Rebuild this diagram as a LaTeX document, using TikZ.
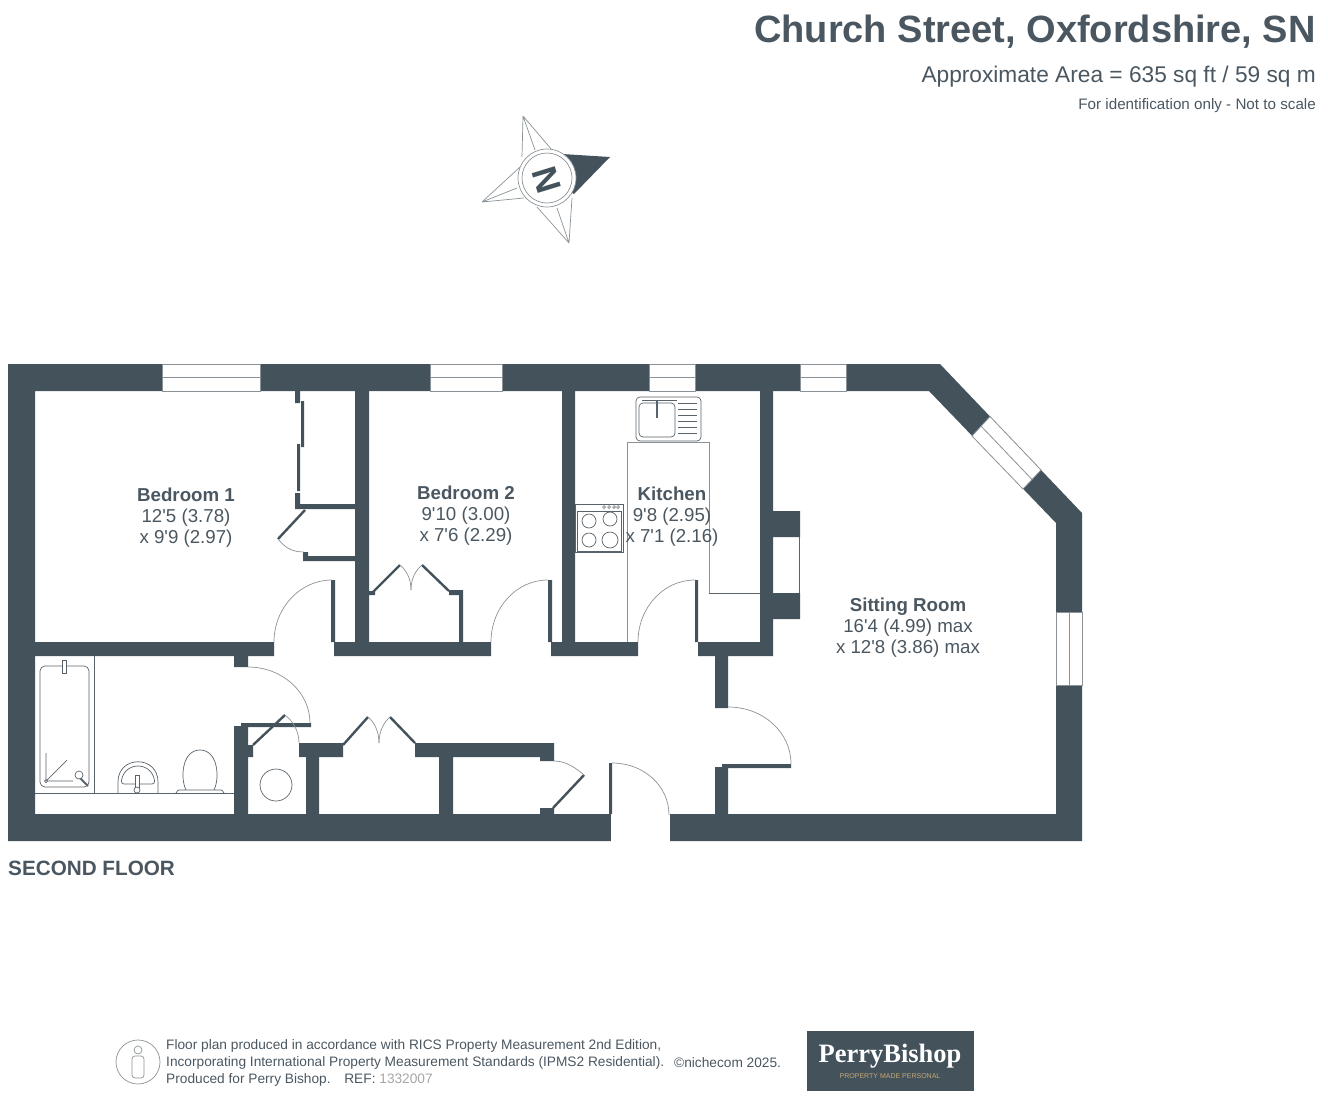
\documentclass[tikz,border=0pt]{standalone}
\usepackage{fontspec}
\newfontfamily\planfont{Liberation Sans}
\newfontfamily\logofont{Liberation Serif}
\definecolor{wall dark}{HTML}{44525C}
\definecolor{text dark}{HTML}{4A5761}
\definecolor{fit line}{HTML}{59636B}
\definecolor{swing line}{HTML}{8B9297}
\definecolor{logo tan}{HTML}{C7A873}
\colorlet{ref grey}{black!35}
\def\outerwall{(8,364) -- (940,364) -- (1082,513) -- (1082,841) -- (8,841) -- cycle}
\def\innerwall{(35,391) -- (929,391) -- (1056,523) -- (1056,814) -- (35,814) -- cycle}
\tikzset{wall/.style={fill=wall dark, draw=none},
	glass/.style={fill=white, draw=swing line, line width=.8pt},
	swing/.style={draw=swing line, line width=.7pt},
	fitting/.style={draw=fit line, line width=.7pt},
	leaf/.style={draw=wall dark, line width=2.4pt},
	roomlabel/.style={text=text dark, align=center, inner sep=0pt, font=\planfont\fontsize{18.7}{21}\selectfont},
	footnote/.style={text=text dark, anchor=west, inner sep=0pt, font=\planfont\fontsize{13.7}{15}\selectfont}}

\begin{document}
\begin{tikzpicture}[x=1pt,y=-1pt]
		\useasboundingbox (0,0) rectangle (1328,1106);
		\fill[wall, even odd rule] \outerwall \innerwall;
		\fill[white] (611,814) rectangle (670,842);
		% windows
		\draw[glass] (162,364) rectangle (260,391) (162,377.5) -- (260,377.5);
		\draw[glass] (430,364) rectangle (502,391) (430,377.5) -- (502,377.5);
		\draw[glass] (649,364) rectangle (695,391) (649,377.5) -- (695,377.5);
		\draw[glass] (800,364) rectangle (846,391) (800,377.5) -- (846,377.5);
		\draw[glass] (990,416.5) -- (1041,470) -- (1023,489) -- (972,436) -- cycle (981,426) -- (1032,479.5);
		\draw[glass] (1056,612) rectangle (1082,685) (1069,612) -- (1069,685);
		% inside walls
		\fill[wall] (355,391) rectangle (369,656)
			(562,391) rectangle (575,656)
			(760,391) rectangle (773,656)
			(773,511) rectangle (800,537)
			(773,593) rectangle (800,619)
			(35,642) rectangle (274,656)
			(334,642) rectangle (491,656)
			(551,642) rectangle (638,656)
			(698,642) rectangle (773,656)
			(715,656) rectangle (728,708)
			(715,767) rectangle (728,814)
			(234,656) rectangle (248,667)
			(234,726) rectangle (248,814)
			(248,745) rectangle (253,757)
			(299,743) rectangle (343,757)
			(306,757) rectangle (319,814)
			(415,743) rectangle (554,757)
			(540,757) rectangle (554,761)
			(439,757) rectangle (453,814)
			(540,808) rectangle (554,814)
			(609,763) rectangle (612,814)
			(241,723) rectangle (311,727)
			(722,764) rectangle (791,768)
			(331,580) rectangle (335,642)
			(548,580) rectangle (552,642)
			(695,580) rectangle (698,642)
			(459,590) rectangle (463,642)
			(449,590) rectangle (463,595)
			(368,591) rectangle (375,595)
			(295,391) rectangle (300,403)
			(301,401) rectangle (304,447)
			(297,444) rectangle (300,491)
			(295,493) rectangle (300,509)
			(295,504) rectangle (355,509)
			(303,552) rectangle (308,561)
			(303,556) rectangle (355,561);
		\draw[fit line, line width=.8pt] (799.5,537) -- (799.5,593);
		% door leaves
		\draw[leaf] (253,745) -- (285,715);
		\draw[leaf] (343,745) -- (368,717);
		\draw[leaf] (390,717) -- (415,743);
		\draw[leaf] (553,808) -- (584,775);
		\draw[leaf] (305,510) -- (278,539);
		\draw[leaf] (373,592) -- (400,565);
		\draw[leaf] (422,565) -- (449,591);
		% door swings
		\draw[swing] (332,580) .. controls +(-32,0) and +(0,-34) .. (274,642);
		\draw[swing] (548,580) .. controls +(-32,0) and +(0,-34) .. (491,642);
		\draw[swing] (695,580) .. controls +(-32,0) and +(0,-34) .. (638,642);
		\draw[swing] (248,667) .. controls +(34,0) and +(0,-31) .. (310,723);
		\draw[swing] (728,707) .. controls +(35,0) and +(0,-32) .. (791,764);
		\draw[swing] (612,763) .. controls +(32,0) and +(0,-29) .. (669,815);
		\draw[swing] (285,715) .. controls +(8,6) and +(0,-12) .. (299,743);
		\draw[swing] (368,717) .. controls +(6,5) and +(0,-12) .. (379,743);
		\draw[swing] (390,717) .. controls +(-6,5) and +(0,-12) .. (379,743);
		\draw[swing] (400,565) .. controls +(6,5) and +(0,-12) .. (411,590);
		\draw[swing] (422,565) .. controls +(-6,5) and +(0,-12) .. (411,590);
		\draw[swing] (554,761) .. controls +(12,0) and +(-8,-7) .. (584,775);
		\draw[swing] (278,539) .. controls +(6,7) and +(-14,0) .. (304,552);
		% kitchen
		\draw[swing] (627,642) -- (627,442) -- (709,442) -- (709,593);
		\draw[fitting] (709,593) -- (760,593);
		\draw[fitting, fill=white, rounded corners=4pt] (636,397) rectangle (701,441);
		\draw[fitting, rounded corners=4pt] (639,403) rectangle (675,437);
		\draw[fitting] (642,400) -- (677,400);
		\draw[fitting, line width=1.6pt] (657,401) -- (657,418);
		\draw[fitting, line width=1pt] (678,403) -- (697,403) (678,409) -- (697,409) (678,415) -- (697,415)
			(678,421) -- (697,421) (678,427) -- (697,427) (678,433) -- (697,433);
		\draw[fitting, fill=white] (575,504) rectangle (623,552);
		\draw[fitting, line width=1pt] (577,511) rectangle (621,551);
		\draw[fitting] (589,521) circle (7) (610,519) circle (7) (589,540) circle (7) (610,540) circle (8);
		\draw[fitting, line width=.5pt] (604,507) circle (1.4) (609,507) circle (1.4) (614,507) circle (1.4) (618,507) circle (1.4);
		% bathroom
		\draw[fitting] (94,656) -- (94,793) (35,793) -- (234,793);
		\draw[fitting, rounded corners=5pt] (40,666) rectangle (89,787);
		\draw[fitting, fill=white] (62,660) -- (62,673) -- (66,673) -- (66,660) -- cycle;
		\draw[fitting] (46,753) -- (46,781) -- (73,781) (46,781) -- (67,760);
		\draw[fitting, line width=1.8pt] (79,777) -- (88,786);
		\draw[fitting, fill=white] (46,781) circle (1.5) (79,775) circle (4);
		\draw[fitting] (118,793) -- (118,782) .. controls (118,755) and (158,755) .. (158,782) -- (158,793);
		\draw[fitting, rounded corners=3pt] (121,784) .. controls (124,761) and (152,761) .. (155,784) -- cycle;
		\draw[fitting, fill=white] (135,775) -- (135,788) -- (139,788) -- (139,775) -- cycle;
		\draw[fitting, fill=white] (137,790) circle (3);
		\draw[fitting] (186,790) .. controls (180,778) and (182,750) .. (200,750) .. controls (218,750) and (220,778) .. (214,790);
		\draw[fitting, rounded corners=1pt] (176,793) -- (178,790) -- (222,790) -- (224,793);
		\draw[fitting] (276,785) circle (16);
		% compass
		\draw[swing] (523,116) -- (522,157) (523,116) -- (552,150) (523,116) -- (535,150)
			(482,202) -- (520,167) (482,202) -- (517,188) (482,202) -- (524,198)
			(569,243) -- (537,207) (569,243) -- (572,198) (569,243) -- (557,208);
		\fill[wall] (562,154) -- (610,157) -- (574,194) -- (547,178) -- cycle;
		\draw[swing, fill=white] (547,178) circle (29);
		\draw[swing] (547,178) circle (25);
		\node[rotate=-73, text=wall dark, inner sep=0pt, font=\planfont\bfseries\fontsize{35}{35}\selectfont] (north) at (547,180) {N};
		% title
		\node[anchor=east, text=text dark, inner sep=0pt, font=\planfont\bfseries\fontsize{38}{38}\selectfont] (title) at (1316,32) {Church Street, Oxfordshire, SN};
		\node[anchor=east, text=text dark, inner sep=0pt, font=\planfont\fontsize{22.7}{23}\selectfont] (area) at (1316,77) {Approximate Area = 635 sq ft / 59 sq m};
		\node[anchor=east, text=text dark, inner sep=0pt, font=\planfont\fontsize{15.2}{16}\selectfont] (scale) at (1316,106) {For identification only - Not to scale};
		% rooms
		\node[roomlabel] (bedone) at (186,518) {\textbf{Bedroom 1}\\12'5 (3.78)\\x 9'9 (2.97)};
		\node[roomlabel] (bedtwo) at (466,516) {\textbf{Bedroom 2}\\9'10 (3.00)\\x 7'6 (2.29)};
		\node[roomlabel] (kitchen) at (672,517) {\textbf{Kitchen}\\9'8 (2.95)\\x 7'1 (2.16)};
		\node[roomlabel] (sitting) at (908,628) {\textbf{Sitting Room}\\16'4 (4.99) max\\x 12'8 (3.86) max};
		\node[anchor=west, text=text dark, inner sep=0pt, font=\planfont\bfseries\fontsize{20.7}{21}\selectfont] (floor) at (8,868) {SECOND FLOOR};
		% footer
		\draw[swing] (138,1062) circle (22) (138,1050) circle (4);
		\draw[swing, rounded corners=3pt] (132,1056) rectangle (144,1078);
		\node[footnote] (lineone) at (166,1046) {Floor plan produced in accordance with RICS Property Measurement 2nd Edition,};
		\node[footnote] (linetwo) at (166,1063) {Incorporating International Property Measurement Standards (IPMS2 Residential).};
		\node[footnote] (linethree) at (166,1080) {Produced for Perry Bishop.\quad REF: \textcolor{ref grey}{1332007}};
		\node[footnote] (credit) at (674,1063) {\textcopyright{}nichecom 2025.};
		\fill[wall] (807,1031) rectangle (974,1091);
		\node[text=white, inner sep=0pt, font=\logofont\bfseries\fontsize{26.5}{27}\selectfont] (logo) at (890,1056) {PerryBishop};
		\node[text=logo tan, inner sep=0pt, font=\planfont\fontsize{7}{7}\selectfont] (strap) at (890,1076) {PROPERTY MADE PERSONAL};
		\end{tikzpicture}
\end{document}
